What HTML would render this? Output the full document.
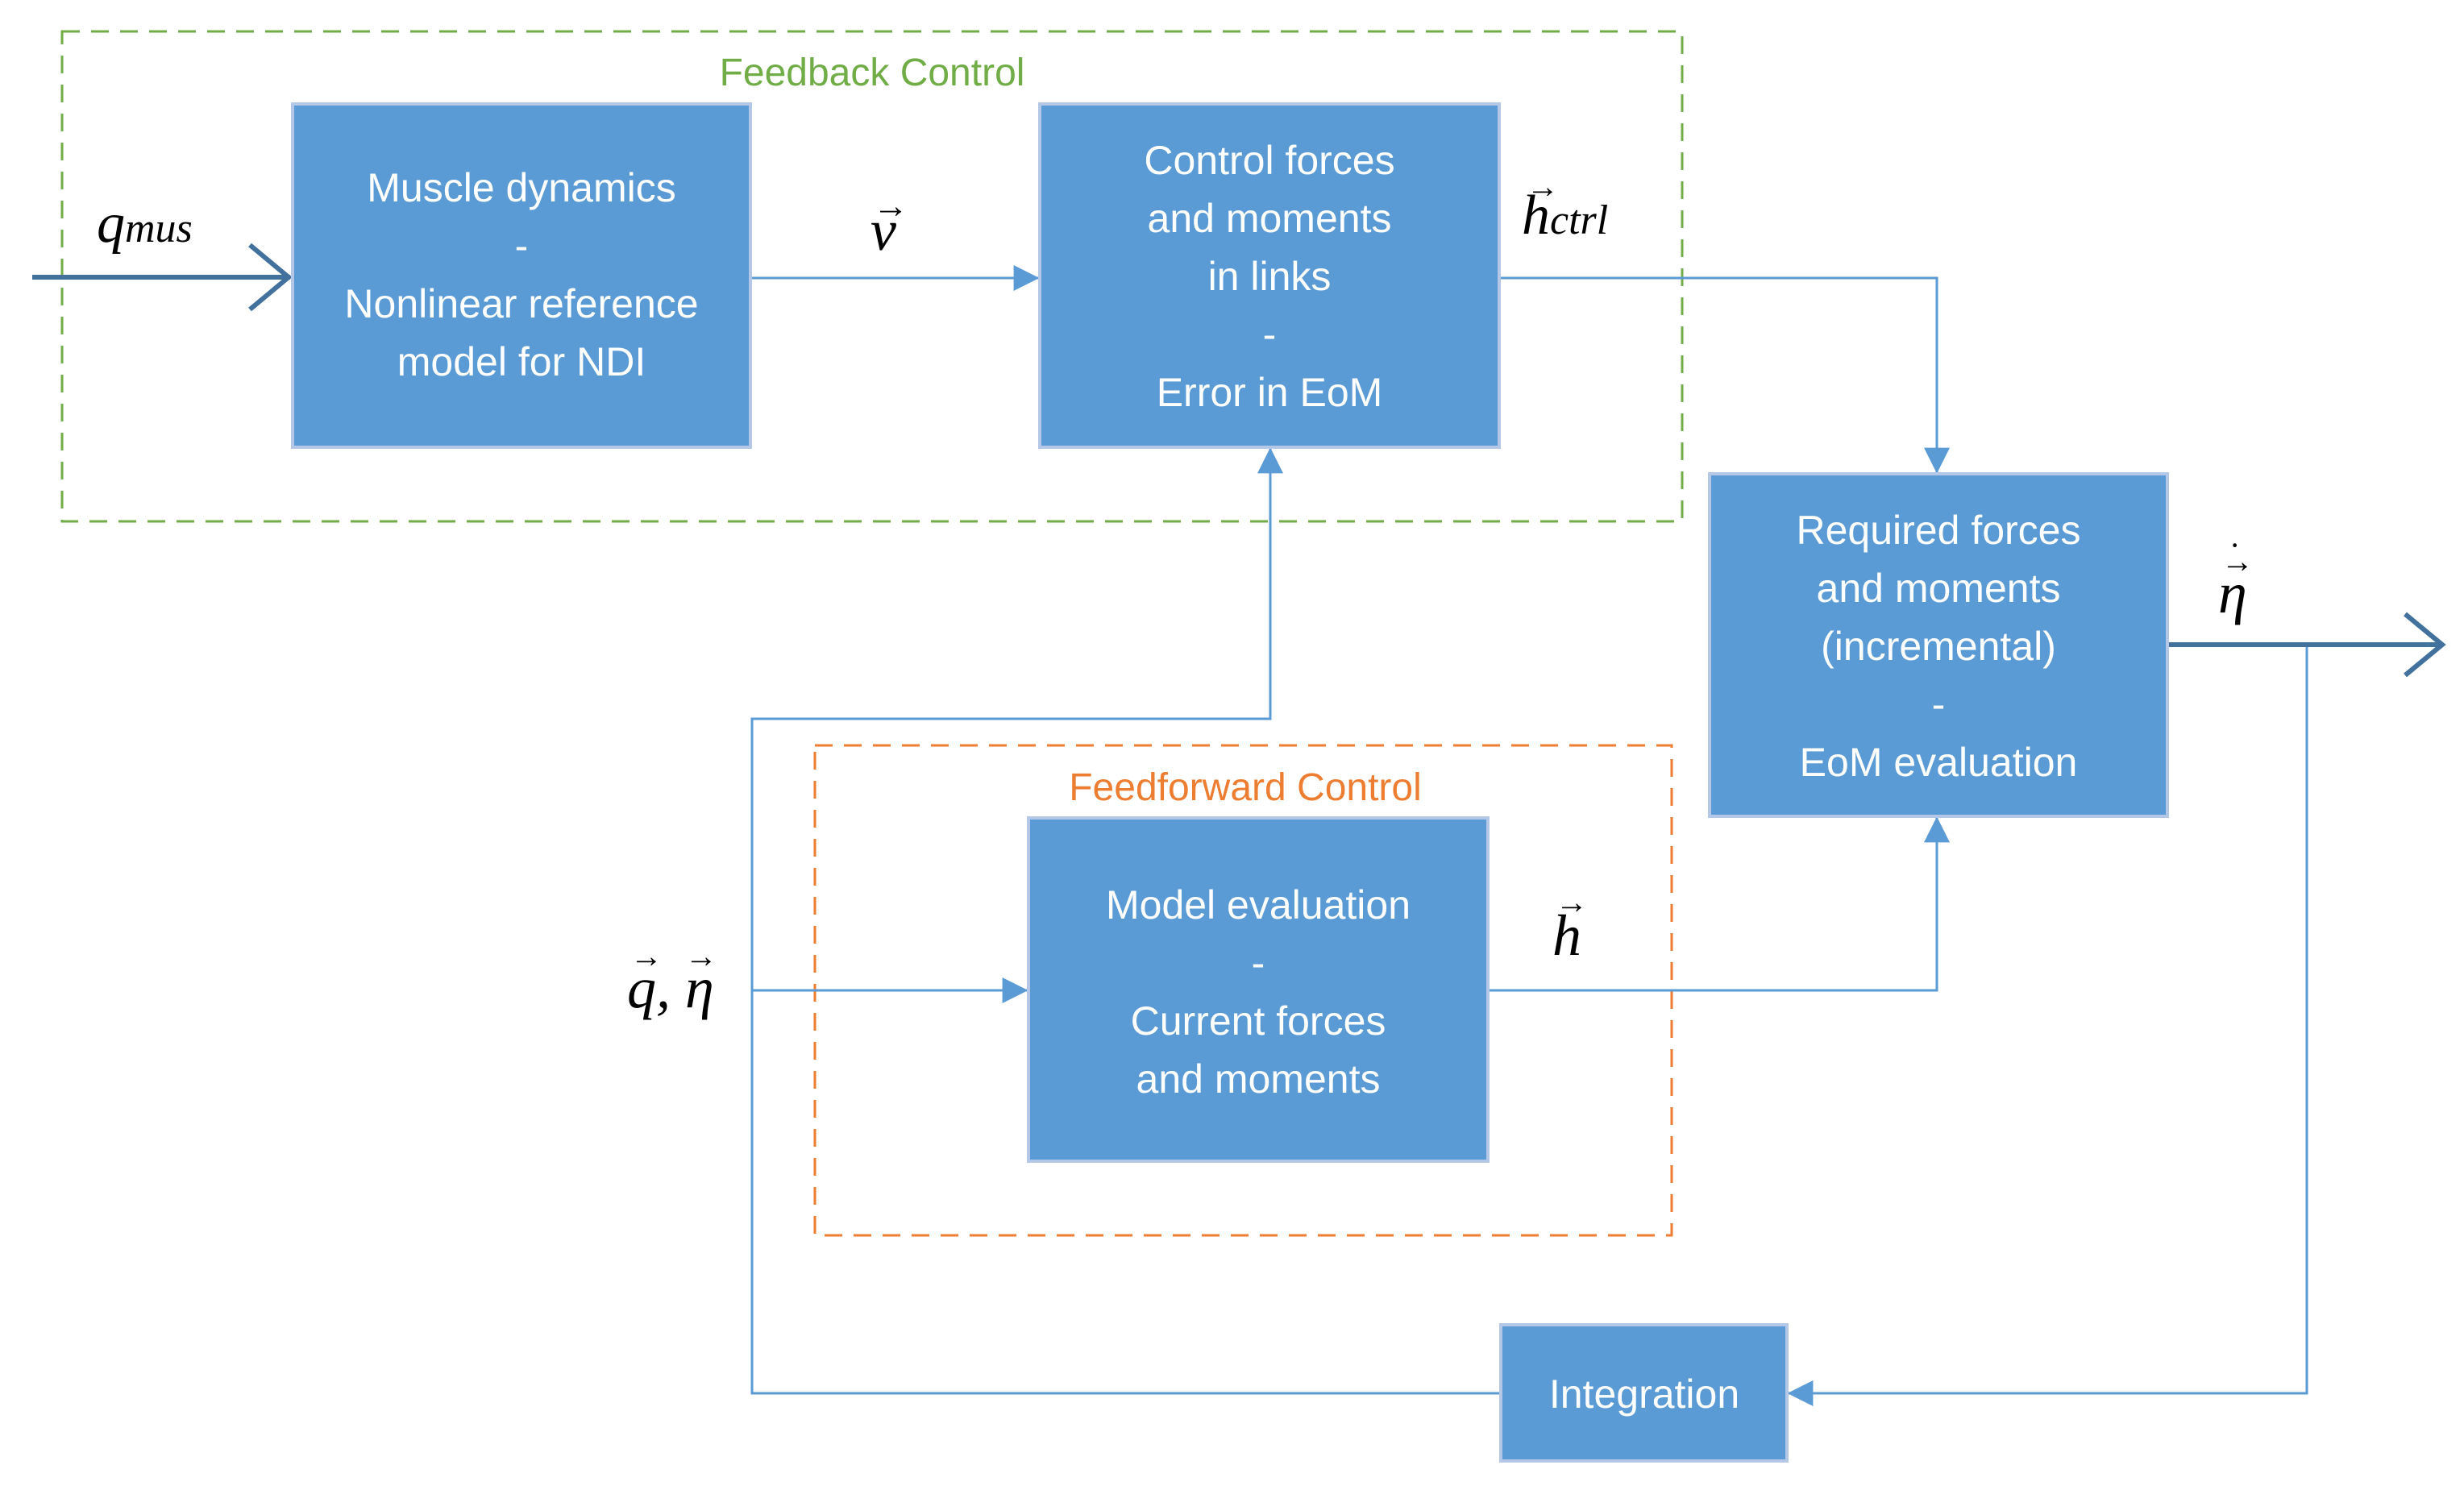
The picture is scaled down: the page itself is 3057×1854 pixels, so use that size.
<!DOCTYPE html>
<html><head><meta charset="utf-8"><style>html,body{margin:0;padding:0;background:#fff}</style></head>
<body>
<svg width="3057" height="1849" viewBox="0 0 3057 1849" xmlns="http://www.w3.org/2000/svg">
<defs>
<marker id="a" markerWidth="10" markerHeight="10" refX="9" refY="5" orient="auto" markerUnits="userSpaceOnUse" viewBox="0 0 10 10"><path d="M0,0 L10,5 L0,10 z" fill="#5b9bd5"/></marker>
<marker id="ab" viewBox="0 0 10 10" refX="9.5" refY="5" markerWidth="32" markerHeight="32" orient="auto" markerUnits="userSpaceOnUse"><path d="M0,0 L10,5 L0,10 z" fill="#5b9bd5"/></marker>
</defs>
<!-- dashed groups -->
<rect x="77" y="39" width="2010" height="608" fill="none" stroke="#70ad47" stroke-width="3" stroke-dasharray="22,14"/>
<rect x="1011" y="925" width="1063" height="608" fill="none" stroke="#ed7d31" stroke-width="3" stroke-dasharray="22,14"/>
<g font-family="Liberation Sans, sans-serif" font-size="48" text-anchor="middle">
<text x="1082" y="106" fill="#70ad47">Feedback Control</text>
<text x="1545" y="993" fill="#ed7d31">Feedforward Control</text>
</g>
<!-- connectors -->
<g fill="none" stroke="#5b9bd5" stroke-width="3">
<path d="M931,345 H1288" marker-end="url(#ab)"/>
<path d="M1860,345 H2403 V586" marker-end="url(#ab)"/>
<path d="M1846,1229 H2403 V1015" marker-end="url(#ab)"/>
<path d="M933,1229 H1274" marker-end="url(#ab)"/>
<path d="M2862,800 V1729 H2219" marker-end="url(#ab)"/>
<path d="M1862,1729 H933 V892 H1576 V557" marker-end="url(#ab)"/>
</g>
<g fill="none" stroke="#41719c" stroke-width="6">
<path d="M40,344 H360"/>
<path d="M310,304 L358,344 L310,384"/>
<path d="M2689,800 H3030"/>
<path d="M2984,762 L3030,800 L2984,838"/>
</g>
<!-- boxes -->
<g fill="#5b9bd5" stroke="#b4c7e7" stroke-width="4">
<rect x="363" y="129" width="568" height="426"/>
<rect x="1290" y="129" width="570" height="426"/>
<rect x="2121" y="588" width="568" height="425"/>
<rect x="1276" y="1015" width="570" height="426"/>
<rect x="1862" y="1644" width="355" height="169"/>
</g>
<g font-family="Liberation Sans, sans-serif" font-size="50" fill="#fff" text-anchor="middle">
<text x="647" y="250">Muscle dynamics</text>
<text x="647" y="322">-</text>
<text x="647" y="394">Nonlinear reference</text>
<text x="647" y="466">model for NDI</text>
<text x="1575" y="216">Control forces</text>
<text x="1575" y="288">and moments</text>
<text x="1575" y="360">in links</text>
<text x="1575" y="432">-</text>
<text x="1575" y="504">Error in EoM</text>
<text x="2405" y="675">Required forces</text>
<text x="2405" y="747">and moments</text>
<text x="2405" y="819">(incremental)</text>
<text x="2405" y="891">-</text>
<text x="2405" y="963">EoM evaluation</text>
<text x="1561" y="1140">Model evaluation</text>
<text x="1561" y="1212">-</text>
<text x="1561" y="1284">Current forces</text>
<text x="1561" y="1356">and moments</text>
<text x="2040" y="1747">Integration</text>
</g>
<!-- math labels -->
<g font-family="Liberation Serif, serif" font-style="italic" fill="#000">
<text x="120" y="300" font-size="70">q<tspan font-size="52">mus</tspan></text>
<text x="1080" y="310" font-size="72">v</text>
<text x="1083" y="270" font-size="44" font-style="normal">→</text>
<text x="1888" y="290" font-size="70">h<tspan font-size="52">ctrl</tspan></text>
<text x="1894" y="245" font-size="40" font-style="normal">→</text>
<text x="2752" y="760" font-size="72">η</text>
<text x="2756" y="710" font-size="40" font-style="normal">→</text>
<text x="2766" y="690" font-size="40" font-style="normal">·</text>
<text x="1926" y="1185" font-size="72">h</text>
<text x="1930" y="1133" font-size="40" font-style="normal">→</text>
<text x="778" y="1250" font-size="72">q, η</text>
<text x="782" y="1200" font-size="40" font-style="normal">→</text>
<text x="850" y="1200" font-size="40" font-style="normal">→</text>
</g>
</svg>
</body></html>
